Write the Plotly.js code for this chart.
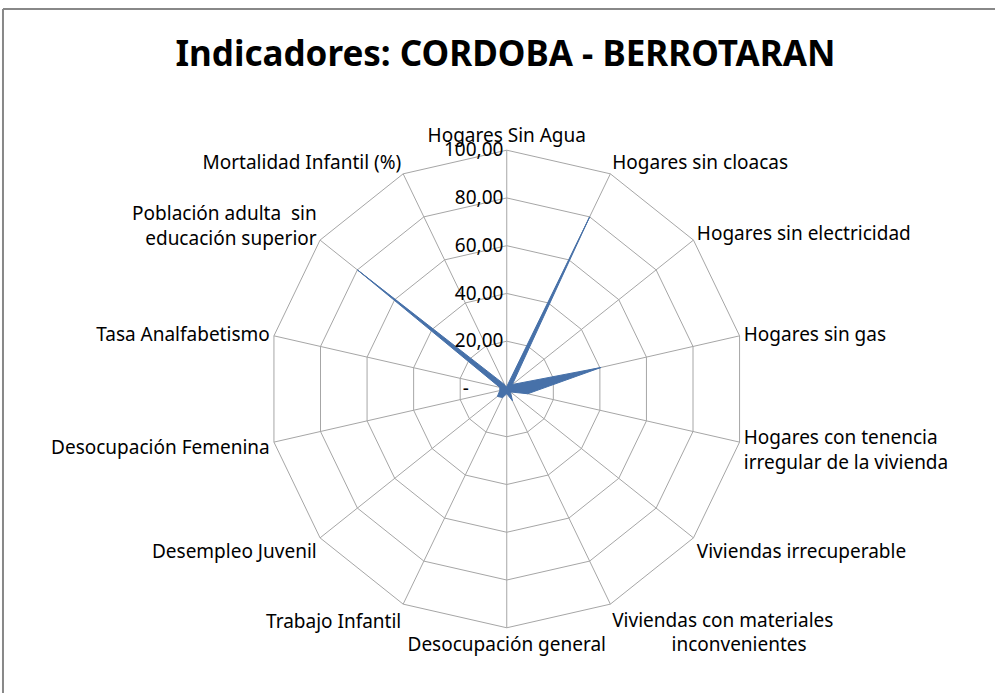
<!DOCTYPE html>
<html>
<head>
<meta charset="utf-8">
<script src="https://cdn.plot.ly/plotly-3.0.1.min.js"></script>
<style>html,body{margin:0;padding:0;background:#fff;}#chart{width:995px;height:693px;}</style>
</head>
<body>
<div id="chart"></div>
<script>
const NB = "\u00a0";
const categories = [
  "Hogares Sin Agua",
  "Hogares sin cloacas",
  "Hogares sin electricidad",
  "Hogares sin gas",
  "Hogares con tenencia<br>irregular de la vivienda",
  "Viviendas irrecuperable",
  "Viviendas con materiales<br>" + NB.repeat(12) + "inconvenientes",
  "Desocupación general",
  "Trabajo Infantil",
  "Desempleo Juvenil",
  "Desocupación Femenina",
  "Tasa Analfabetismo",
  "Población adulta  sin<br>educación superior",
  "Mortalidad Infantil (%)"
];
const values = [1.0, 80.0, 3.0, 40.5, 9.0, 2.0, 5.5, 2.0, 4.0, 5.0, 3.0, 3.0, 80.0, 2.0];
const radialTicks = [0, 20, 40, 60, 80, 100];
const radialTickText = ["-" + NB.repeat(7), "20,00", "40,00", "60,00", "80,00", "100,00"];

const labelFont = {family: "Noto Sans, Open Sans, sans-serif", size: 19, color: "#000"};
const gridColor = "#a6a6a6";

const trace = {
  type: "scatterpolar",
  r: values,
  theta: categories,
  mode: "lines",
  fill: "toself",
  fillcolor: "#4771a9",
  line: {color: "#4771a9", width: 1},
  hoverinfo: "none"
};

const layout = {
  width: 995,
  height: 693,
  margin: {l: 0, r: 0, t: 0, b: 0},
  paper_bgcolor: "#fff",
  showlegend: false,
  title: {
    text: "<b>Indicadores: CORDOBA - BERROTARAN</b>",
    font: {family: "Noto Sans, Open Sans, sans-serif", size: 35, color: "#000"},
    x: 0.508, xanchor: "center",
    y: 0.923, yanchor: "middle"
  },
  polar: {
    domain: {x: [0.2693, 0.7493], y: [0.0938, 0.7836]},
    gridshape: "linear",
    bgcolor: "#fff",
    angularaxis: {
      type: "category",
      rotation: 90,
      direction: "clockwise",
      gridcolor: gridColor,
      linecolor: gridColor,
      showline: true,
      ticks: "",
      tickfont: labelFont
    },
    radialaxis: {
      range: [0, 100],
      angle: 90,
      side: "counterclockwise",
      tickangle: 90,
      tickvals: radialTicks,
      ticktext: radialTickText,
      tickfont: labelFont,
      gridcolor: gridColor,
      showline: false,
      ticks: ""
    }
  },
  shapes: [
    {type: "line", xref: "paper", yref: "paper", x0: 0.003, x1: 1.01, y0: 1 - 9/693, y1: 1 - 9/693, line: {color: "#888", width: 2}},
    {type: "line", xref: "paper", yref: "paper", x0: 0.003, x1: 0.003, y0: -0.01, y1: 1 - 9/693, line: {color: "#888", width: 2}}
  ]
};

Plotly.newPlot("chart", [trace], layout, {displayModeBar: false, staticPlot: true});
</script>
</body>
</html>
